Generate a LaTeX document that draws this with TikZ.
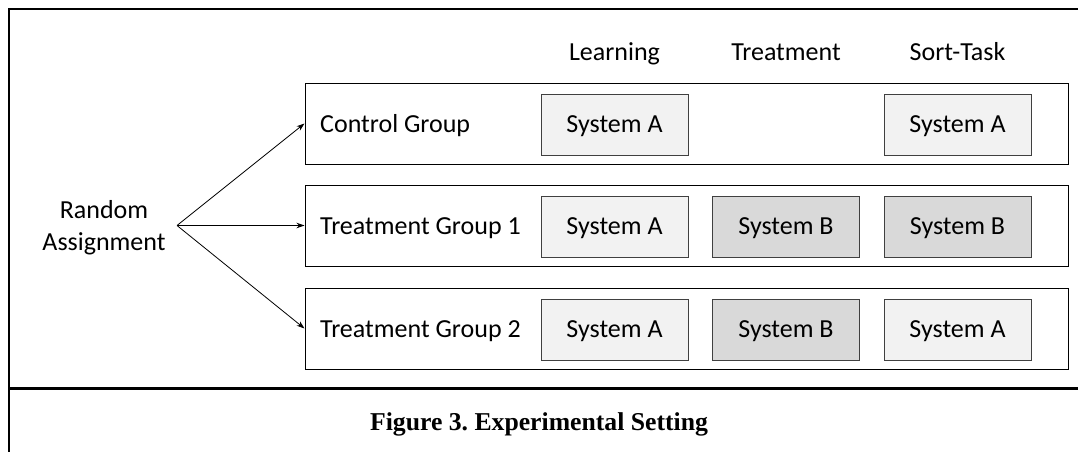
\documentclass[tikz,border=0pt]{standalone}
\usepackage{fontspec}
\setmainfont{Carlito}
\newfontfamily\captionfont{Liberation Serif}
\usetikzlibrary{arrows.meta}
\frenchspacing
\definecolor{fillA}{HTML}{F2F2F2}
\definecolor{fillB}{HTML}{D9D9D9}
\definecolor{boxline}{HTML}{404040}
\tikzset{
  frameline/.style={line width=2.2pt, line cap=rect},
  grouprow/.style={draw=black, line width=1pt, minimum width=763pt, minimum height=81pt, inner sep=0pt},
  sysbox/.style={draw=boxline, line width=1pt, minimum width=147pt, minimum height=61pt,
    inner sep=0pt, text height=16.8pt, text depth=0pt, font=\fontsize{26pt}{31pt}\selectfont},
  sysA/.style={sysbox, fill=fillA},
  sysB/.style={sysbox, fill=fillB},
  label/.style={inner sep=0pt, font=\fontsize{26pt}{31pt}\selectfont},
  arrowline/.style={line width=0.8pt, -{Stealth[length=8pt,width=5.5pt]}},
}
\begin{document}
\begin{tikzpicture}[x=1pt, y=-1pt]
  \useasboundingbox (0,0) rectangle (1078,452);

  % outer frame and caption divider
  \draw[frameline] (9,452) -- (9,9) -- (1078,9);
  \draw[frameline] (9,388.5) -- (1078,388.5);

  % column headings
  \node[label, anchor=base] (hLearn) at (614.5,60) {Learning};
  \node[label, anchor=base] (hTreat) at (786,60) {Treatment};
  \node[label, anchor=base] (hSort)  at (957.5,60) {Sort-Task};

  % group rows
  \node[grouprow] (r1) at (686.5,123.5) {};
  \node[grouprow] (r2) at (686.5,225.5) {};
  \node[grouprow] (r3) at (686.5,328.5) {};

  \node[label, anchor=base west] (g1) at (320,132) {Control Group};
  \node[label, anchor=base west] (g2) at (320,234) {Treatment Group 1};
  \node[label, anchor=base west] (g3) at (320,337) {Treatment Group 2};

  % systems used in each phase
  \node[sysA] (b11) at (614.5,124.5) {System A};
  \node[sysA] (b13) at (957.5,124.5) {System A};

  \node[sysA] (b21) at (614.5,226.5) {System A};
  \node[sysB] (b22) at (786,226.5)   {System B};
  \node[sysB] (b23) at (957.5,226.5) {System B};

  \node[sysA] (b31) at (614.5,329.5) {System A};
  \node[sysB] (b32) at (786,329.5)   {System B};
  \node[sysA] (b33) at (957.5,329.5) {System A};

  % random assignment
  \node[label, anchor=base] (ra1) at (104,218) {Random};
  \node[label, anchor=base] (ra2) at (104,250) {Assignment};
  \coordinate (split) at (177,225.5);
  \draw[arrowline] (split) -- (r1.west);
  \draw[arrowline] (split) -- (r2.west);
  \draw[arrowline] (split) -- (r3.west);

  % caption
  \node[inner sep=0pt, anchor=base, font=\captionfont\bfseries\fontsize{25.7pt}{30pt}\selectfont] (cap)
    at (539,430) {Figure 3. Experimental Setting};
\end{tikzpicture}
\end{document}
